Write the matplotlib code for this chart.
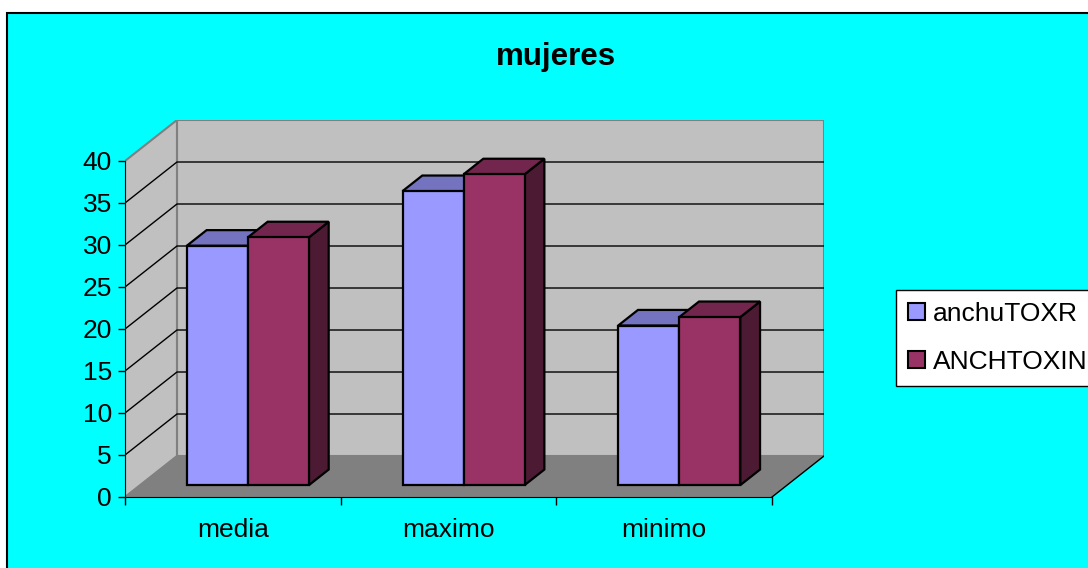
import matplotlib.pyplot as plt
from matplotlib.patches import Polygon, Rectangle, Patch

plt.rcParams['font.family'] = ['Liberation Sans', 'DejaVu Sans']

# data
categories = ["media", "maximo", "minimo"]
anchu_toxr = [28.5, 35, 19]
anch_toxin = [29.5, 37, 20]
series_names = ["anchuTOXR", "ANCHTOXIN"]
yticks = list(range(0, 45, 5))

# face colours per series: front, top, side
blue = ("#9999FF", "#7373BF", "#4D4D80")
red = ("#993366", "#73264D", "#4D1A33")

# oblique projection: full depth of the floor moves a point by (DX, DY)
DX, DY = 0.241, 4.88
ymax = 40
ncat = len(categories)

def proj(x, y, d):
    return (x + d * DX, y + d * DY)

fig = plt.figure(figsize=(10.88, 5.68), dpi=100)
fig.patch.set_facecolor("white")
fig.add_artist(Rectangle((7 / 1088, -0.1), 1.2, 555.5 / 568 + 0.1,
                         transform=fig.transFigure, facecolor="#00FFFF",
                         edgecolor="black", lw=1.5, zorder=-1))

ax = fig.add_axes([125 / 1088, 71 / 568, 699 / 1088, 377 / 568])
ax.set_xlim(0, ncat + DX)
ax.set_ylim(0, ymax + DY)
ax.patch.set_visible(False)

# walls and floor
back = [proj(0, 0, 1), proj(ncat, 0, 1), proj(ncat, ymax, 1), proj(0, ymax, 1)]
left = [proj(0, 0, 0), proj(0, 0, 1), proj(0, ymax, 1), proj(0, ymax, 0)]
floor = [proj(0, 0, 0), proj(ncat, 0, 0), proj(ncat, 0, 1), proj(0, 0, 1)]
ax.add_patch(Polygon(back, closed=True, facecolor="#C0C0C0", edgecolor="#808080", lw=1.5, zorder=1))
ax.add_patch(Polygon(left, closed=True, facecolor="#C0C0C0", edgecolor="#808080", lw=1.5, zorder=1))
ax.add_patch(Polygon(floor, closed=True, facecolor="#808080", edgecolor="none", zorder=1))
fx, fy = zip(proj(ncat, 0, 0), proj(ncat, 0, 1))
ax.plot(fx, fy, color="black", lw=1, zorder=1.5)

# gridlines on left and back walls
for v in yticks[1:-1]:
    pts = [proj(0, v, 0), proj(0, v, 1), proj(ncat, v, 1)]
    xs, ys = zip(*pts)
    ax.plot(xs, ys, color="black", lw=1, zorder=1.5)

def draw_bar(x0, x1, h, cols, f0=0.29, f1=0.67):
    front = [proj(x0, 0, f0), proj(x1, 0, f0), proj(x1, h, f0), proj(x0, h, f0)]
    top = [proj(x0, h, f0), proj(x1, h, f0), proj(x1, h, f1), proj(x0, h, f1)]
    side = [proj(x1, 0, f0), proj(x1, 0, f1), proj(x1, h, f1), proj(x1, h, f0)]
    for poly, c in zip((side, top, front), (cols[2], cols[1], cols[0])):
        ax.add_patch(Polygon(poly, closed=True, facecolor=c, edgecolor="black",
                             lw=1.6, joinstyle="miter", zorder=3))

bw = 0.283
for i in range(ncat):
    draw_bar(i + 0.5 - bw, i + 0.5, anchu_toxr[i], blue)
    draw_bar(i + 0.5, i + 0.5 + bw, anch_toxin[i], red)

# axes
for s in ("top", "right"):
    ax.spines[s].set_visible(False)
ax.spines["left"].set_bounds(0, ymax)
ax.spines["bottom"].set_bounds(0, ncat)
ax.spines["left"].set_zorder(4)
ax.spines["bottom"].set_zorder(4)
ax.set_yticks(yticks)
ax.tick_params(axis="y", direction="out", length=5, width=1, labelsize=19, pad=4.5)
ax.set_xticks(range(ncat + 1))
ax.set_xticklabels([])
ax.set_xticks([i + 0.5 for i in range(ncat)], categories, minor=True)
ax.tick_params(axis="x", which="major", direction="out", length=6, width=1)
ax.tick_params(axis="x", which="minor", length=0, labelsize=19, pad=15)

fig.text(556 / 1088, (568 - 65) / 568, "mujeres", ha="center", va="baseline",
         fontsize=22.5, fontweight="bold")

handles = [Patch(facecolor=blue[0], edgecolor="black", lw=1.5),
           Patch(facecolor=red[0], edgecolor="black", lw=1.5)]
leg = fig.legend(handles, series_names, loc="upper left",
                 bbox_to_anchor=(896 / 1088, (568 - 290) / 568), borderaxespad=0,
                 fontsize=19, handlelength=0.65, handleheight=0.65,
                 handletextpad=0.3, borderpad=0.45, labelspacing=0.9,
                 fancybox=False, framealpha=1, edgecolor="black")
leg.get_frame().set_linewidth(1)

fig.savefig("out.png", dpi=100)
